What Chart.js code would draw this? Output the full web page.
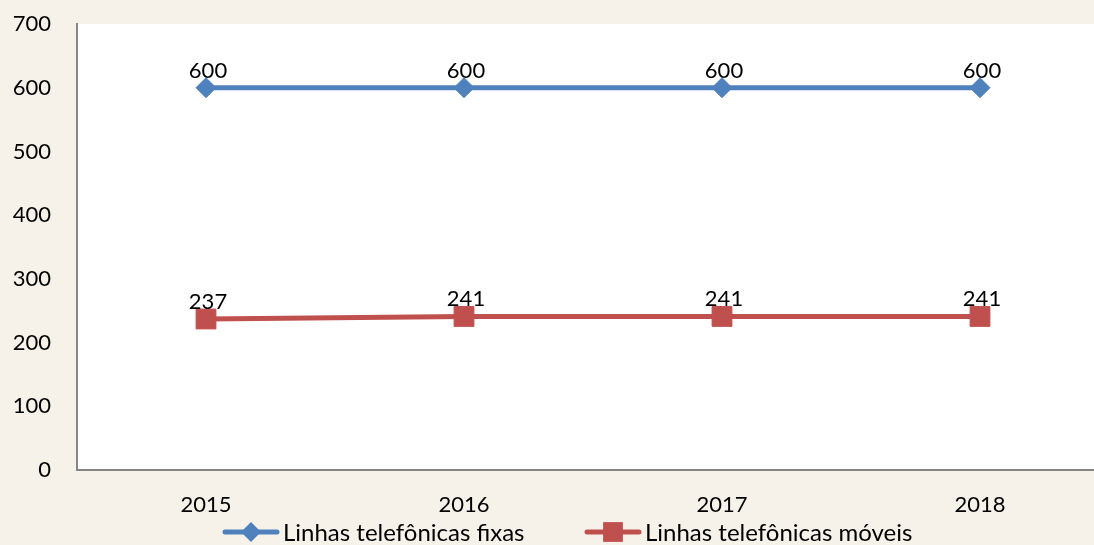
<!DOCTYPE html>
<html>
<head>
<meta charset="utf-8">
<script src="https://cdn.jsdelivr.net/npm/chart.js@4/dist/chart.umd.min.js"></script>
<style>
  html, body { margin: 0; padding: 0; overflow: hidden; background: #F6F2EA; }
  #wrap { position: absolute; left: 0; top: 0; width: 1110px; height: 545px; }
</style>
</head>
<body>
<div id="wrap"><canvas id="c" width="1110" height="545"></canvas></div>
<script>
const categories = ['2015', '2016', '2017', '2018'];
const fixas = [600, 600, 600, 600];
const moveis = [237, 241, 241, 241];
const seriesNames = ['Linhas telefônicas fixas', 'Linhas telefônicas móveis'];
const yTicks = [0, 100, 200, 300, 400, 500, 600, 700];

const FONT = 'Lato, "Liberation Sans", sans-serif';
const BLUE = '#4F81BD';
const RED = '#C0504D';

const plotBg = {
  id: 'plotBg',
  beforeDraw(chart) {
    const { ctx, chartArea: a } = chart;
    ctx.save();
    ctx.fillStyle = '#FFFFFF';
    ctx.fillRect(a.left, a.top, Math.max(chart.width, a.right) - a.left, a.bottom - a.top);
    ctx.restore();
  }
};

const valueLabels = {
  id: 'valueLabels',
  afterDatasetsDraw(chart) {
    const ctx = chart.ctx;
    ctx.save();
    ctx.font = '22px ' + FONT;
    ctx.fillStyle = '#000000';
    ctx.textAlign = 'center';
    ctx.textBaseline = 'alphabetic';
    chart.data.datasets.forEach((ds, i) => {
      const meta = chart.getDatasetMeta(i);
      meta.data.forEach((pt, j) => {
        ctx.fillText(String(ds.data[j]), pt.x + 2, pt.y - 10);
      });
    });
    ctx.restore();
  }
};

function drawMarker(ctx, style, x, y, r, color) {
  ctx.beginPath();
  if (style === 'rectRot') {
    ctx.moveTo(x - r, y); ctx.lineTo(x, y - r); ctx.lineTo(x + r, y); ctx.lineTo(x, y + r);
  } else {
    const s = Math.SQRT1_2 * r;
    ctx.rect(x - s, y - s, 2 * s, 2 * s);
  }
  ctx.closePath();
  ctx.fillStyle = color;
  ctx.fill();
}

const customLegend = {
  id: 'customLegend',
  afterDraw(chart) {
    const ctx = chart.ctx;
    const y = 532;
    const starts = [223, 585];
    ctx.save();
    ctx.font = '24px ' + FONT;
    ctx.textBaseline = 'alphabetic';
    ctx.textAlign = 'left';
    chart.data.datasets.forEach((ds, i) => {
      const x0 = starts[i];
      const lineLen = 56;
      ctx.strokeStyle = ds.borderColor;
      ctx.lineWidth = 5;
      ctx.lineCap = 'round';
      ctx.beginPath();
      ctx.moveTo(x0 + 2, y); ctx.lineTo(x0 + lineLen - 2, y);
      ctx.stroke();
      drawMarker(ctx, ds.pointStyle, x0 + lineLen / 2, y, ds.pointStyle === 'rectRot' ? 10 : 14, ds.pointBackgroundColor);
      ctx.fillStyle = '#000000';
      ctx.fillText(ds.label, x0 + lineLen + 4, 541);
    });
    ctx.restore();
  }
};

new Chart(document.getElementById('c'), {
  type: 'line',
  data: {
    labels: categories,
    datasets: [
      {
        label: seriesNames[0],
        data: fixas,
        borderColor: BLUE,
        backgroundColor: BLUE,
        pointBackgroundColor: BLUE,
        pointBorderColor: BLUE,
        borderWidth: 5,
        pointStyle: 'rectRot',
        pointRadius: 10,
        pointBorderWidth: 1,
        tension: 0
      },
      {
        label: seriesNames[1],
        data: moveis,
        borderColor: RED,
        backgroundColor: RED,
        pointBackgroundColor: RED,
        pointBorderColor: RED,
        borderWidth: 5,
        pointStyle: 'rect',
        pointRadius: 14,
        pointBorderWidth: 1,
        tension: 0
      }
    ]
  },
  options: {
    responsive: false,
    animation: false,
    events: [],
    layout: { autoPadding: false, padding: { top: 24, left: 0, right: 1, bottom: 0 } },
    plugins: {
      legend: { display: false },
      tooltip: { enabled: false }
    },
    scales: {
      x: {
        offset: true,
        grid: { display: false, drawTicks: false },
        border: { display: true, color: '#868686', width: 2 },
        ticks: { font: { family: FONT, size: 22 }, color: '#000000', padding: 22, maxRotation: 0 },
        afterFit(scale) { scale.height = 75; scale.paddingLeft = 0; scale.paddingRight = 0; }
      },
      y: {
        min: 0,
        max: 700,
        afterBuildTicks(scale) { scale.ticks = yTicks.map(v => ({ value: v })); },
        grid: { display: false, drawTicks: false },
        border: { display: true, color: '#868686', width: 2 },
        ticks: { font: { family: FONT, size: 22 }, color: '#000000', padding: 26 },
        afterFit(scale) { scale.width = 77; scale.paddingTop = 0; scale.paddingBottom = 0; }
      }
    }
  },
  plugins: [plotBg, valueLabels, customLegend]
});
</script>
</body>
</html>
